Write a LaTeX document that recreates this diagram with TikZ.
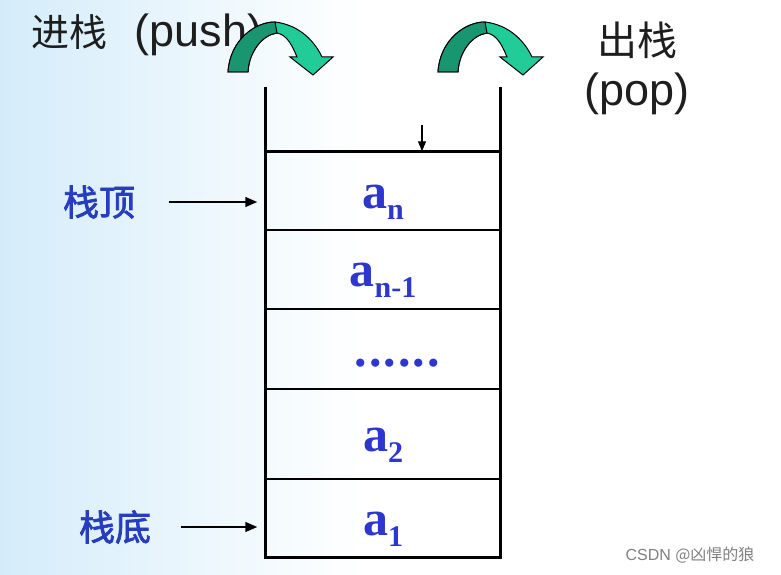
\documentclass[tikz,border=0pt]{standalone}
\usepackage{fontspec}
\setmainfont{Liberation Serif}
\newfontfamily\cjk{Noto Sans CJK SC}
\newfontfamily\cjkb[FakeBold=2]{Noto Sans CJK SC}
\newfontfamily\latin{Liberation Sans}
\usetikzlibrary{arrows.meta,positioning}
\definecolor{bgblue}{RGB}{212,236,250}
\definecolor{valblue}{RGB}{45,55,205}
\definecolor{sideblue}{RGB}{38,62,190}
\definecolor{grnd}{RGB}{24,150,112}
\definecolor{grnl}{RGB}{34,204,152}
\definecolor{ink}{RGB}{30,30,30}
\newcommand{\elem}[2]{#1\raisebox{-11pt}{\fontsize{30}{30}\selectfont #2}}

\begin{document}
\begin{tikzpicture}[x=1pt,y=-1pt,
  cell/.style={draw, line width=1.5pt, minimum width=234pt, inner sep=0pt, text height=44pt, text depth=10pt, font=\fontsize{50}{50}\selectfont\bfseries, text=valblue},
  side/.style={font=\cjkb\fontsize{36}{36}\selectfont, text=sideblue},
  ptr/.style={-{Triangle[length=12pt,width=10pt]}, line width=1.5pt},
  wall/.style={line width=3pt},
  turn/.style={draw=black, line width=1pt, fill=grnl},
  limb/.style={draw=black, line width=1pt, fill=grnd}]
\useasboundingbox (0,0) rectangle (781,575);
\fill[white] (0,0) rectangle (781,575);
\shade[left color=bgblue, right color=white] (0,0) rectangle (360,575);

\node[anchor=west, text=ink] (push) at (28,35) {{\cjk\fontsize{38}{38}\selectfont 进栈}\hspace{27pt}{\latin\fontsize{45}{45}\selectfont (push)}};
\node[align=center, text=ink, font=\fontsize{40}{50}\selectfont] (pop) at (637,68) {{\cjk 出栈}\\{\latin\fontsize{45}{50}\selectfont (pop)}};

\path[turn] (228,72) .. controls (230,40) and (255,22) .. (275,22) .. controls (300,25) and (315,42) .. (322,57) -- (333,57) -- (313,75) -- (290,57) -- (297,57) .. controls (292,45) and (287,35) .. (277,33) .. controls (262,35) and (249,52) .. (248,72) -- cycle;
\path[limb] (228,72) .. controls (230,40) and (255,22) .. (275,22) -- (277,33) .. controls (262,35) and (249,52) .. (248,72) -- cycle;
\path[turn, xshift=210pt] (228,72) .. controls (230,40) and (255,22) .. (275,22) .. controls (300,25) and (315,42) .. (322,57) -- (333,57) -- (313,75) -- (290,57) -- (297,57) .. controls (292,45) and (287,35) .. (277,33) .. controls (262,35) and (249,52) .. (248,72) -- cycle;
\path[limb, xshift=210pt] (228,72) .. controls (230,40) and (255,22) .. (275,22) -- (277,33) .. controls (262,35) and (249,52) .. (248,72) -- cycle;

\node[cell, minimum height=78pt] (an) at (383,191) {\elem{a}{n}};
\node[cell, minimum height=79pt] (an1) at (383,269.5) {\elem{a}{n-1}};
\node[cell, minimum height=80pt] (dots) at (383,349) {\hspace{28pt}.\kern2pt.\kern2pt.\kern2pt.\kern2pt.\kern2pt.};
\node[cell, minimum height=90pt] (a2) at (383,434) {\elem{a}{2}};
\node[cell, minimum height=78pt] (a1) at (383,518) {\elem{a}{1}};

\draw[wall] ([yshift=64pt]an.north west) -- (a1.south west) -- (a1.south east) -- ([yshift=64pt]an.north east);
\draw[wall] (an.north west) -- (an.north east);

\coordinate (drop) at (422,125);
\draw[-{Triangle[length=10pt,width=8pt]}, line width=1.2pt] (drop) -- (drop |- an.north);

\node[side] (toplab) at (99,202) {栈顶};
\node[side] (botlab) at (115,527) {栈底};
\draw[ptr, shorten <=30pt, shorten >=8pt] (toplab.east) -- (toplab.east -| an.west);
\draw[ptr, shorten <=26pt, shorten >=8pt] (botlab.east) -- (botlab.east -| a1.west);

\node[text=gray, font=\fontsize{16}{16}\selectfont] (mark) at (690,555) {\latin CSDN {\cjk @凶悍的狼}};
\end{tikzpicture}
\end{document}
